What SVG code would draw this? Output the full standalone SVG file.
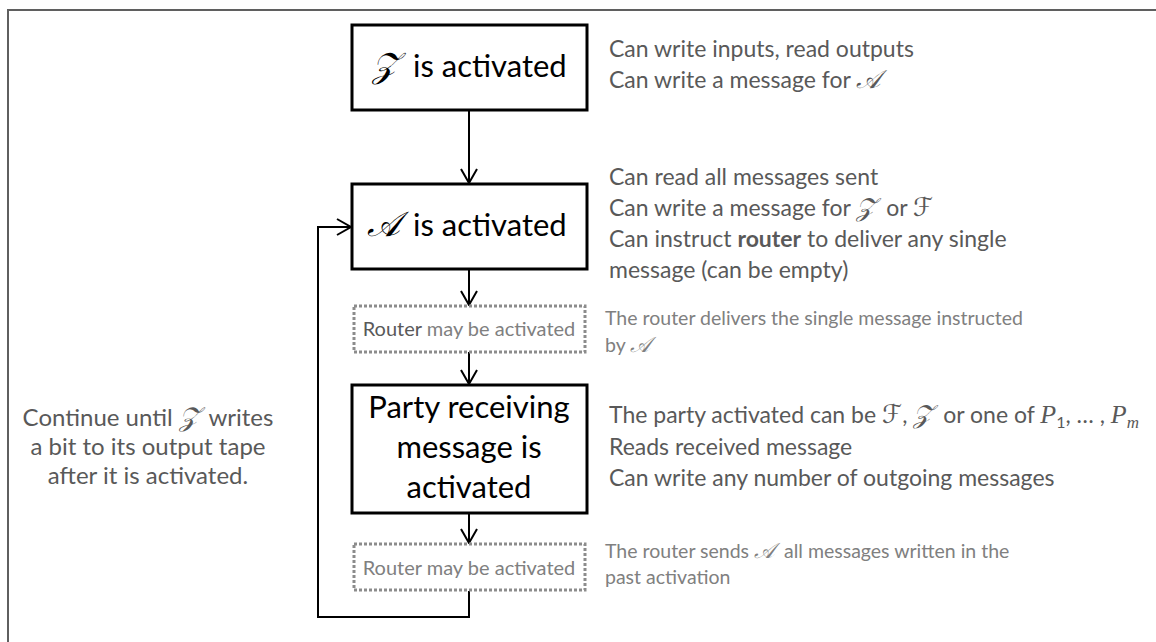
<svg xmlns="http://www.w3.org/2000/svg" width="1156" height="642" viewBox="0 0 1156 642">
<style>
.box{fill:#fff;stroke:#000;stroke-width:3}
.rbox{fill:#fff;stroke:#8c8c8c;stroke-width:3;stroke-dasharray:3 2}
.big{font-family:Lato,"Liberation Sans",sans-serif;font-size:31px;fill:#000}
.desc{font-family:Lato,"Liberation Sans",sans-serif;font-size:23px;fill:#595959}
.left{font-family:Lato,"Liberation Sans",sans-serif;font-size:24px;fill:#595959}
.small{font-family:Lato,"Liberation Sans",sans-serif;font-size:19.5px;fill:#808080}
.rt{font-family:Lato,"Liberation Sans",sans-serif;font-size:20px;fill:#808080}
.m{font-family:"DejaVu Serif","DejaVu Sans",serif;font-style:italic;font-size:1.12em}
.mi{font-family:"Liberation Serif","DejaVu Serif",serif;font-style:italic}
.conn{fill:none;stroke:#000;stroke-width:2}
</style>
<defs>
<marker id="ah" markerUnits="userSpaceOnUse" markerWidth="18" markerHeight="18" viewBox="0 0 18 18" refX="15" refY="9" orient="auto">
<path d="M1,1 L15,9 L1,17" fill="none" stroke="#000" stroke-width="2"/>
</marker>
</defs>
<rect x="8" y="10" width="1200" height="700" fill="none" stroke="#5f5f5f" stroke-width="2"/>

<g id="connectors">
<line class="conn" x1="469" y1="110" x2="469" y2="183" marker-end="url(#ah)"/>
<line class="conn" x1="469" y1="269" x2="469" y2="305" marker-end="url(#ah)"/>
<line class="conn" x1="469" y1="352" x2="469" y2="384" marker-end="url(#ah)"/>
<line class="conn" x1="469" y1="513" x2="469" y2="543" marker-end="url(#ah)"/>
<polyline class="conn" points="469,591 469,617 318,617 318,227 351,227" marker-end="url(#ah)"/>
</g>

<g id="node-z">
<rect class="box" x="352" y="25" width="235" height="85"/>
<text class="big" y="77"><tspan class="m" x="372">𝒵</tspan><tspan x="413">is activated</tspan></text>
</g>
<g id="node-a">
<rect class="box" x="352" y="184" width="235" height="85"/>
<text class="big" y="236"><tspan class="m" x="367">𝒜</tspan><tspan x="413">is activated</tspan></text>
</g>
<g id="node-router1">
<rect class="rbox" x="354" y="306" width="231" height="46"/>
<text class="rt" x="469" y="336" text-anchor="middle"><tspan fill="#595959">Router</tspan> may be activated</text>
</g>
<g id="node-party">
<rect class="box" x="352" y="385" width="235" height="128"/>
<text class="big" x="469" y="418" text-anchor="middle">Party receiving</text>
<text class="big" x="469" y="458" text-anchor="middle">message is</text>
<text class="big" x="469" y="498" text-anchor="middle">activated</text>
</g>
<g id="node-router2">
<rect class="rbox" x="354" y="544" width="231" height="46"/>
<text class="rt" x="469" y="575" text-anchor="middle">Router may be activated</text>
</g>

<g id="notes">
<text class="desc" x="609" y="57">Can write inputs, read outputs</text>
<text class="desc" x="609" y="88">Can write a message for <tspan class="m">𝒜</tspan></text>
<text class="desc" x="609" y="185">Can read all messages sent</text>
<text class="desc" x="609" y="216">Can write a message for <tspan class="m">𝒵</tspan><tspan dx="4"> or </tspan><tspan class="m">ℱ</tspan></text>
<text class="desc" x="609" y="247">Can instruct <tspan font-weight="bold">router</tspan> to deliver any single</text>
<text class="desc" x="609" y="278">message (can be empty)</text>
<text class="small" x="605" y="325">The router delivers the single message instructed</text>
<text class="small" x="605" y="352">by <tspan class="m">𝒜</tspan></text>
<text class="desc" x="609" y="423">The party activated can be <tspan class="m">ℱ</tspan>, <tspan class="m">𝒵</tspan><tspan dx="4"> or one of </tspan><tspan class="mi" font-size="26">P</tspan><tspan font-size="16" dy="5">1</tspan><tspan dy="-5">, … , </tspan><tspan class="mi" font-size="26">P</tspan><tspan class="mi" font-size="17" dy="5">m</tspan></text>
<text class="desc" x="609" y="455">Reads received message</text>
<text class="desc" x="609" y="486">Can write any number of outgoing messages</text>
<text class="small" x="605" y="558">The router sends <tspan class="m">𝒜</tspan><tspan dx="4"> all messages written in the</tspan></text>
<text class="small" x="605" y="584">past activation</text>
<text class="left" x="148" y="426" text-anchor="middle">Continue until <tspan class="m">𝒵</tspan><tspan dx="4"> writes</tspan></text>
<text class="left" x="148" y="455" text-anchor="middle">a bit to its output tape</text>
<text class="left" x="148" y="484" text-anchor="middle">after it is activated.</text>
</g>
</svg>
